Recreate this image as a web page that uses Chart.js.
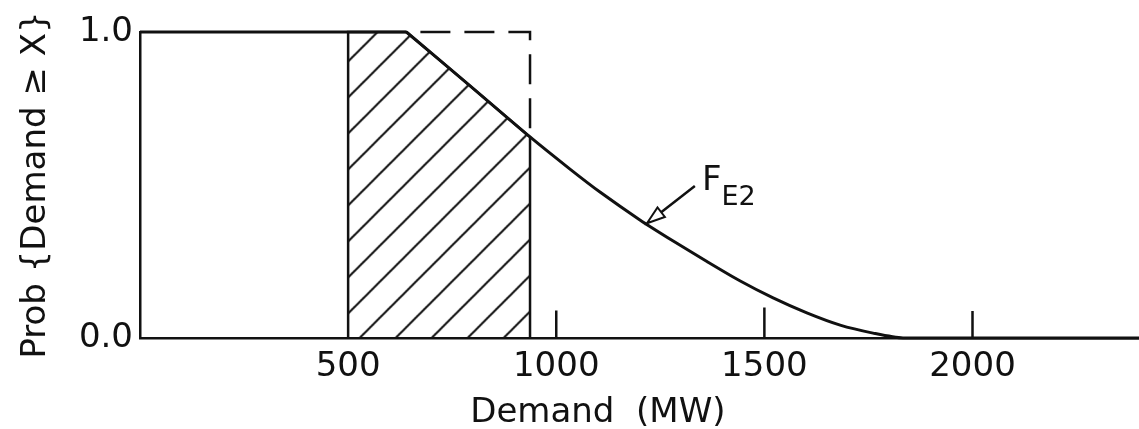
<!DOCTYPE html>
<html>
<head>
<meta charset="utf-8">
<title>Prob {Demand ≥ X}</title>
<script src="https://cdn.jsdelivr.net/npm/chart.js@4.4.1/dist/chart.umd.min.js"></script>
<style>
  html, body { margin: 0; padding: 0; background: #fff; }
  #wrap { width: 1139px; height: 429px; }
</style>
</head>
<body>
<div id="wrap"><canvas id="demandChart" width="1139" height="429"></canvas></div>
<script>
// F_E2: flat at 1.0 up to the knee, then the falling curve (demand in MW, probability)
const flatX = [0, 640];
const flatY = [1, 1];
const curveX = [640, 793, 937, 1033, 1105, 1201, 1281, 1362, 1441, 1521, 1602, 1682, 1761, 1833, 2400];
const curveY = [1, 0.824, 0.657, 0.552, 0.477, 0.386, 0.317, 0.25, 0.187, 0.131, 0.082, 0.042, 0.016, 0, 0];

// hatched region under the curve, 500 to 937 MW
const hatchX = [500, 500, 640, 793, 937, 937];
const hatchY = [0, 1, 1, 0.824, 0.657, 0];

// dashed outline above the curve
const boxX = [640, 937, 937];
const boxY = [1, 1, 0.657];

// axis ticks
const xTickValues = [500, 1000, 1500, 2000];
const xTickLabels = ['500', '1000', '1500', '2000'];
const yTickValues = [0, 1];
const yTickLabels = ['0.0', '1.0'];

// small upright tick marks on the x axis
const markX = [1000, 1500, 2000];
const markH = [0.09, 0.10, 0.088];

const ink = '#111';
const family = "'DejaVu Sans', sans-serif";

const canvas = document.getElementById('demandChart');
const ctx = canvas.getContext('2d');

// diagonal hatching for the shaded area
function hatchPattern() {
    const size = 36;
    const tile = document.createElement('canvas');
    tile.width = size;
    tile.height = size;
    const g = tile.getContext('2d');
    g.strokeStyle = ink;
    g.lineWidth = 2;
    g.beginPath();
    g.moveTo(0, size); g.lineTo(size, 0);
    g.moveTo(-size / 2, size / 2); g.lineTo(size / 2, -size / 2);
    g.moveTo(size / 2, size * 1.5); g.lineTo(size * 1.5, size / 2);
    g.stroke();
    const p = ctx.createPattern(tile, 'repeat');
    p.setTransform(new DOMMatrix().translateSelf(13.5, 0));
    return p;
}

const toPoints = (xs, ys) => xs.map((v, i) => ({ x: v, y: ys[i] }));
const markPoints = markX.flatMap((v, i) => [{ x: v, y: 0 }, { x: v, y: markH[i] }, { x: v, y: null }]);

// F_E2 label with arrow, and the x axis title
const notes = {
    id: 'notes',
    afterDraw(chart) {
        const { ctx, scales: { x, y }, chartArea } = chart;
        ctx.save();
        ctx.fillStyle = ink;
        ctx.strokeStyle = ink;

        // x axis title
        ctx.font = '34px ' + family;
        ctx.textAlign = 'center';
        ctx.textBaseline = 'alphabetic';
        ctx.fillText('Demand  (MW)', x.getPixelForValue(1100), chartArea.bottom + 84);

        // F_E2
        const fx = x.getPixelForValue(1350);
        const fy = y.getPixelForValue(0.484);
        ctx.textAlign = 'left';
        ctx.fillText('F', fx, fy);
        const w = ctx.measureText('F').width;
        ctx.font = '27px ' + family;
        ctx.fillText('E2', fx + w, fy + 15);

        // arrow
        const x0 = x.getPixelForValue(1333), y0 = y.getPixelForValue(0.497);
        const x1 = x.getPixelForValue(1218), y1 = y.getPixelForValue(0.375);
        const ang = Math.atan2(y1 - y0, x1 - x0);
        const len = 18, half = 6;
        const bx = x1 - len * Math.cos(ang), by = y1 - len * Math.sin(ang);
        ctx.lineWidth = 2.5;
        ctx.beginPath();
        ctx.moveTo(x0, y0);
        ctx.lineTo(bx, by);
        ctx.stroke();
        ctx.beginPath();
        ctx.moveTo(x1, y1);
        ctx.lineTo(bx + half * Math.sin(ang), by - half * Math.cos(ang));
        ctx.lineTo(bx - half * Math.sin(ang), by + half * Math.cos(ang));
        ctx.closePath();
        ctx.fillStyle = '#fff';
        ctx.fill();
        ctx.lineWidth = 2;
        ctx.stroke();
        ctx.restore();
    }
};

Chart.defaults.font.family = family;
Chart.defaults.color = ink;

new Chart(canvas, {
    type: 'line',
    data: {
        datasets: [
            {
                label: 'F_E2',
                data: toPoints(curveX, curveY),
                borderColor: ink,
                borderWidth: 3,
                tension: 0.25,
                pointRadius: 0,
                fill: false,
                clip: false
            },
            {
                label: 'F_E2 flat',
                data: toPoints(flatX, flatY),
                borderColor: ink,
                borderWidth: 3,
                pointRadius: 0,
                fill: false,
                clip: false
            },
            {
                label: 'box',
                data: toPoints(boxX, boxY),
                borderColor: ink,
                borderWidth: 2.5,
                borderDash: [30, 14],
                borderDashOffset: 30,
                pointRadius: 0,
                fill: false,
                clip: false
            },
            {
                label: 'shaded',
                data: toPoints(hatchX, hatchY),
                borderColor: ink,
                borderWidth: 2.5,
                backgroundColor: hatchPattern(),
                pointRadius: 0,
                fill: 'origin',
                clip: false
            },
            {
                label: 'ticks',
                data: markPoints,
                borderColor: ink,
                borderWidth: 2.5,
                pointRadius: 0,
                spanGaps: false,
                fill: false,
                clip: false
            }
        ]
    },
    options: {
        responsive: false,
        animation: false,
        layout: { padding: { top: 32, right: 0, bottom: 0, left: 0 } },
        plugins: {
            legend: { display: false },
            tooltip: { enabled: false }
        },
        scales: {
            x: {
                type: 'linear',
                min: 0,
                max: 2400,
                afterBuildTicks: (s) => { s.ticks = xTickValues.map(v => ({ value: v })); },
                afterFit: (s) => { s.height = 91; },
                ticks: {
                    callback: (v, i) => xTickLabels[i],
                    padding: 12,
                    maxRotation: 0,
                    autoSkip: false,
                    color: ink,
                    font: { size: 34, lineHeight: 1 }
                },
                grid: { display: false, drawTicks: false },
                border: { display: true, color: ink, width: 2.5 }
            },
            y: {
                type: 'linear',
                min: 0,
                max: 1,
                afterBuildTicks: (s) => { s.ticks = yTickValues.map(v => ({ value: v })); },
                afterFit: (s) => { s.width = 140; },
                ticks: {
                    callback: (v, i) => yTickLabels[i],
                    padding: 7,
                    color: ink,
                    font: { size: 34, lineHeight: 1 }
                },
                title: {
                    display: true,
                    text: 'Prob {Demand ≥ X}',
                    color: ink,
                    font: { size: 34, lineHeight: 1 },
                    padding: { top: 19, bottom: 0 }
                },
                grid: { display: false, drawTicks: false },
                border: { display: true, color: ink, width: 2.5 }
            }
        }
    },
    plugins: [notes]
});
</script>
</body>
</html>
